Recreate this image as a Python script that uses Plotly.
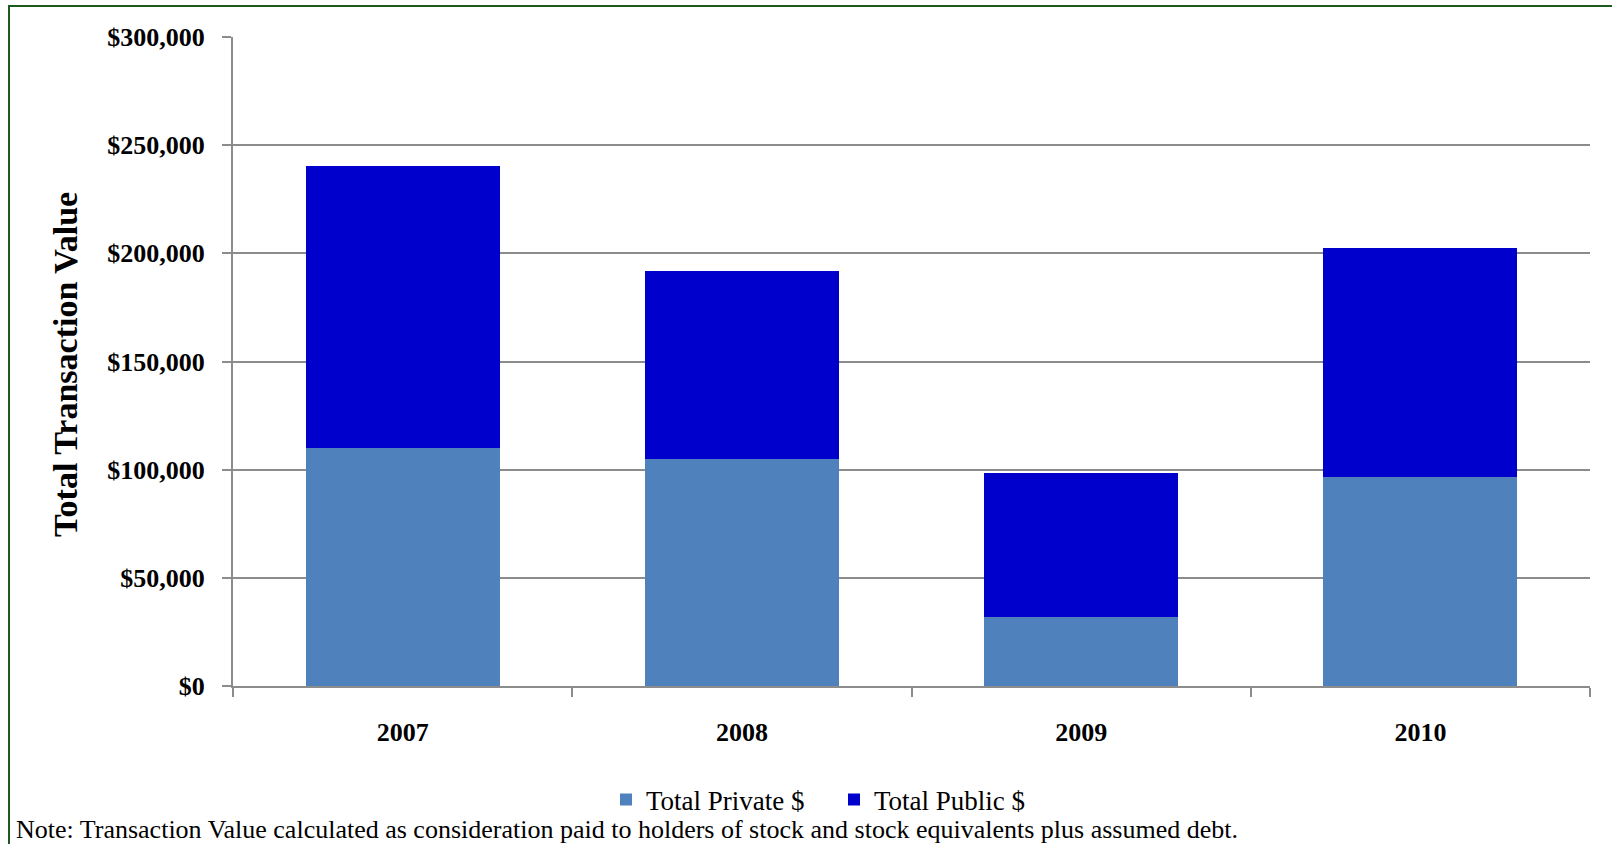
import plotly.graph_objects as go

# Annual transaction value, split by buyer type
years = ["2007", "2008", "2009", "2010"]
private_vals = [110000, 105000, 31800, 96700]
public_vals = [130500, 87000, 66600, 105700]

y_ticks = [0, 50000, 100000, 150000, 200000, 250000, 300000]
y_tick_text = ["$0", "$50,000", "$100,000", "$150,000", "$200,000", "$250,000", "$300,000"]

note_text = ("Note: Transaction Value calculated as consideration paid to holders of "
             "stock and stock equivalents plus assumed debt.")

SERIF = "Liberation Serif"
GRID = "#8c8c8c"

W, H = 1612, 844
L, R, T, B = 233, 22, 37, 158
plot_w = W - L - R
plot_h = H - T - B


def px_x(px):
    return (px - L) / plot_w


def px_y(py):
    return (H - B - py) / plot_h


fig = go.Figure()
fig.add_trace(go.Bar(
    x=years, y=private_vals, name="Total Private $",
    marker=dict(color="#4f81bd", line=dict(width=0)),
))
fig.add_trace(go.Bar(
    x=years, y=public_vals, name="Total Public $",
    marker=dict(color="#0000cc", line=dict(width=0)),
))

fig.update_layout(
    width=W, height=H,
    margin=dict(l=L, r=R, t=T, b=B, autoexpand=False),
    barmode="stack",
    bargap=0.428,
    plot_bgcolor="white",
    paper_bgcolor="white",
    font=dict(family=SERIF, color="black"),
    showlegend=True,
    legend=dict(
        orientation="h",
        x=px_x(834), y=px_y(800),
        xanchor="center", yanchor="middle",
        font=dict(family=SERIF, size=27, color="black"),
        entrywidth=183,
        itemsizing="constant",
        traceorder="normal",
        bgcolor="rgba(0,0,0,0)",
    ),
    xaxis=dict(
        type="category",
        showgrid=False,
        showline=True, linecolor=GRID, linewidth=2,
        ticks="outside", tickson="boundaries", ticklen=9, tickwidth=2, tickcolor=GRID,
        tickfont=dict(family=SERIF, size=26, color="black", weight="bold"),
        ticklabelstandoff=22,
        fixedrange=True,
    ),
    yaxis=dict(
        range=[0, 300000],
        tickvals=y_ticks, ticktext=y_tick_text,
        showgrid=True, gridcolor=GRID, gridwidth=2,
        showline=True, linecolor=GRID, linewidth=2,
        ticks="outside", ticklen=9, tickwidth=2, tickcolor=GRID,
        tickfont=dict(family=SERIF, size=26, color="black", weight="bold"),
        ticklabelstandoff=12,
        zeroline=False,
        fixedrange=True,
    ),
    annotations=[
        dict(
            text="Total Transaction Value", textangle=-90,
            xref="paper", yref="paper", x=px_x(65.5), y=px_y(364.5),
            xanchor="center", yanchor="middle", showarrow=False,
            font=dict(family=SERIF, size=34, color="black", weight="bold"),
        ),
        dict(
            text=note_text,
            xref="paper", yref="paper", x=px_x(14), y=px_y(830),
            xanchor="left", yanchor="middle", showarrow=False,
            font=dict(family=SERIF, size=26, color="black"),
        ),
    ],
    shapes=[
        dict(
            type="rect", xref="paper", yref="paper",
            x0=px_x(9), x1=px_x(1640), y0=px_y(880), y1=px_y(6),
            line=dict(color="#1e5a1e", width=2), fillcolor="rgba(0,0,0,0)",
            layer="below",
        ),
    ],
)

fig.write_html("out.html")
